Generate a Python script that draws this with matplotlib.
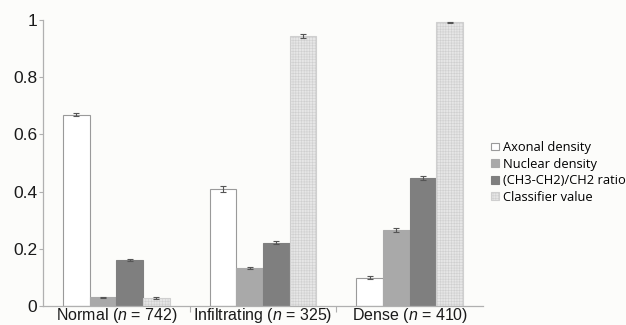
import numpy as np
import matplotlib
matplotlib.use("Agg")
import matplotlib.pyplot as plt

plt.rcParams['font.family'] = ['Liberation Sans', 'DejaVu Sans']
plt.rcParams['mathtext.fontset'] = 'custom'
plt.rcParams['mathtext.rm'] = 'Liberation Sans'
plt.rcParams['mathtext.it'] = 'Liberation Sans:italic'
plt.rcParams['hatch.color'] = '#d2d2d2'
plt.rcParams['hatch.linewidth'] = 0.4

categories = ["Normal ($\\it{n}$ = 742)", "Infiltrating ($\\it{n}$ = 325)", "Dense ($\\it{n}$ = 410)"]
series_names = ["Axonal density", "Nuclear density", "(CH3-CH2)/CH2 ratio", "Classifier value"]
axonal = [0.669, 0.409, 0.099]
nuclear = [0.030, 0.133, 0.267]
ratio = [0.161, 0.222, 0.449]
classifier = [0.027, 0.944, 0.993]
axonal_err = [0.005, 0.010, 0.005]
nuclear_err = [0.002, 0.004, 0.007]
ratio_err = [0.003, 0.006, 0.007]
classifier_err = [0.004, 0.007, 0.002]
yticks = [0, 0.2, 0.4, 0.6, 0.8, 1]
ytick_labels = ["0", "0.2", "0.4", "0.6", "0.8", "1"]

bg = '#fcfcfa'
fig = plt.figure(figsize=(6.26, 3.25), dpi=100, facecolor=bg)
ax = fig.add_axes([0.0687, 0.0585, 0.7029, 0.8795])
ax.set_facecolor(bg)

values = [axonal, nuclear, ratio, classifier]
errs = [axonal_err, nuclear_err, ratio_err, classifier_err]
faces = ['#ffffff', '#a9a9a9', '#7f7f7f', '#e6e6e6']
edges = ['#9a9a9a', '#a9a9a9', '#7f7f7f', '#cfcfcf']
hatches = [None, None, None, '++++++']
w = 0.182
x = np.arange(len(categories))
handles = []
for i, (v, e) in enumerate(zip(values, errs)):
    pos = x + (i - 1.5) * w
    b = ax.bar(pos, v, w, color=faces[i], edgecolor=edges[i], linewidth=0.8,
               hatch=hatches[i], label=series_names[i], zorder=2)
    ax.errorbar(pos, v, yerr=e, fmt='none', ecolor='#555555', elinewidth=0.8,
                capsize=2, capthick=0.8, zorder=3)
    handles.append(b)

ax.set_xlim(-0.5, 2.5)
ax.set_ylim(0, 1)
ax.set_yticks(yticks)
ax.set_yticklabels(ytick_labels, fontsize=12.5, color='#1a1a1a')
ax.set_xticks(x)
ax.set_xticklabels(categories, fontsize=11.5, color='#1a1a1a')
ax.set_xticks([0.5, 1.5], minor=True)
ax.tick_params(axis='x', which='major', length=0, pad=0)
ax.tick_params(axis='x', which='minor', length=4, color='#b0b0b0', width=0.8)
ax.tick_params(axis='y', length=3, color='#b0b0b0', width=0.8, pad=1)
for s in ['top', 'right']:
    ax.spines[s].set_visible(False)
for s in ['left', 'bottom']:
    ax.spines[s].set_color('#b0b0b0')
    ax.spines[s].set_linewidth(0.9)

leg = fig.legend(handles=handles, labels=series_names, loc='upper left',
                 bbox_to_anchor=(0.785, 0.566), frameon=False,
                 prop={'family': ['Open Sans', 'DejaVu Sans'], 'size': 9.3},
                 handlelength=0.55, handleheight=0.55, handletextpad=0.35,
                 labelspacing=0.28, borderpad=0, borderaxespad=0)

fig.savefig("out.png", dpi=100, facecolor=bg)
